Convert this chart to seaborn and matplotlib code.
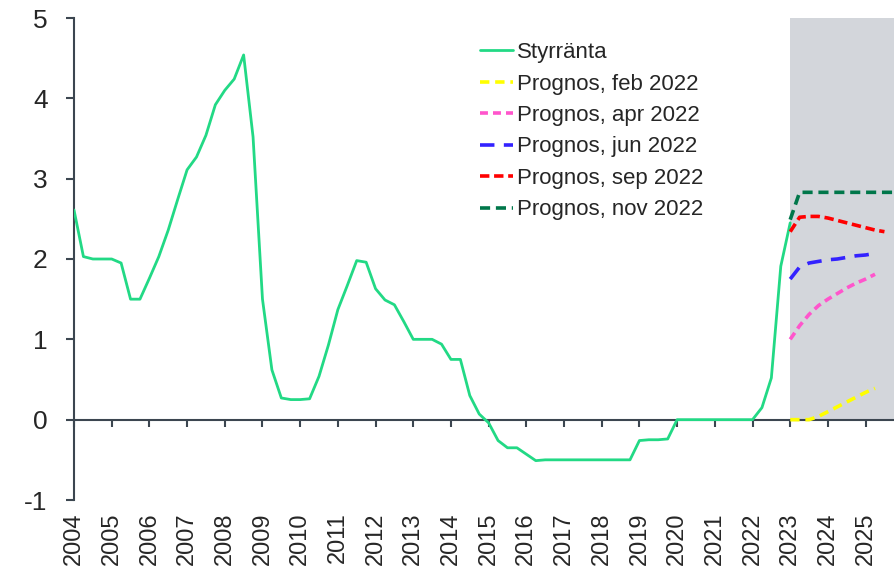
import numpy as np
import pandas as pd
import seaborn as sns
import matplotlib.pyplot as plt
from matplotlib.lines import Line2D

# styrränta, quarterly averages Q1 2004 - Q1 2023
styr_start = 2004
styrranta = [2.61, 2.03, 2.0, 2.0,
             2.0, 1.95, 1.5, 1.5,
             1.76, 2.03, 2.36, 2.74,
             3.11, 3.27, 3.54, 3.92,
             4.10, 4.24, 4.54, 3.52,
             1.50, 0.62, 0.27, 0.25,
             0.25, 0.26, 0.54, 0.93,
             1.37, 1.67, 1.98, 1.96,
             1.63, 1.49, 1.43, 1.22,
             1.0, 1.0, 1.0, 0.94,
             0.75, 0.75, 0.30, 0.07,
             -0.04, -0.26, -0.35, -0.35,
             -0.43, -0.51, -0.50, -0.50,
             -0.50, -0.50, -0.50, -0.50,
             -0.50, -0.50, -0.50, -0.50,
             -0.26, -0.25, -0.25, -0.24,
             0.0, 0.0, 0.0, 0.0,
             0.0, 0.0, 0.0, 0.0,
             0.0, 0.15, 0.52, 1.91,
             2.45]

# forecasts, quarterly from Q1 2023
prog_start = 2023
prog_feb = [0.0, 0.0, 0.0, 0.04, 0.10, 0.16, 0.22, 0.28, 0.34, 0.39]
prog_apr = [1.0, 1.17, 1.31, 1.42, 1.50, 1.57, 1.64, 1.70, 1.75, 1.81]
prog_jun = [1.75, 1.90, 1.95, 1.97, 1.99, 2.00, 2.02, 2.04, 2.05, 2.07]
prog_sep = [2.34, 2.52, 2.53, 2.53, 2.51, 2.48, 2.45, 2.42, 2.39, 2.36, 2.34]
prog_nov = [2.49, 2.83, 2.83, 2.83, 2.83, 2.83, 2.83, 2.83, 2.83, 2.83, 2.83, 2.83]

years = list(range(2004, 2026))
x_end = 2025.78


def quarters(start, vals):
    return pd.DataFrame({'t': start + 0.25 * np.arange(len(vals)), 'v': vals})


sns.set_style('white')
plt.rcParams['font.family'] = ['Liberation Sans', 'DejaVu Sans']
plt.rcParams['axes.unicode_minus'] = False

fig = plt.figure(figsize=(8.95, 5.76), dpi=100)
ax = fig.add_axes([74 / 895, 76 / 576, 821 / 895, 482 / 576])

# shaded forecast area
ax.fill_between([prog_start, x_end], 0, 5, color='#d3d6db', lw=0, zorder=0)

series = [
    ('Styrränta', styr_start, styrranta, '#22d985', None, 2.0),
    ('Prognos, feb 2022', prog_start, prog_feb, '#ffff00', (2.6, 1.6), 2.6),
    ('Prognos, apr 2022', prog_start, prog_apr, '#ff55cc', (2.2, 1.4), 2.6),
    ('Prognos, jun 2022', prog_start, prog_jun, '#3322ff', (4.0, 2.6), 2.6),
    ('Prognos, sep 2022', prog_start, prog_sep, '#ff0000', (2.6, 1.3), 2.6),
    ('Prognos, nov 2022', prog_start, prog_nov, '#00774a', (2.8, 1.6), 2.6),
]

handles = []
for name, start, vals, col, dash, lw in series:
    df = quarters(start, vals)
    sns.lineplot(data=df, x='t', y='v', color=col, lw=lw, ax=ax, zorder=3)
    ln = ax.lines[-1]
    if dash is not None:
        ln.set_dashes(dash)
    h = Line2D([], [], color=col, lw=lw)
    if dash is not None:
        h.set_dashes(dash)
    handles.append(h)

ax.legend(handles, [s[0] for s in series], loc='upper left',
          bbox_to_anchor=(0.494, 0.95), frameon=False, fontsize=16,
          handlelength=1.5, handletextpad=0.2, labelspacing=0.47,
          borderpad=0, borderaxespad=0)

ax.set_xlim(2004, x_end)
ax.set_ylim(-1, 5)
ax.set_yticks(range(-1, 6))
ax.set_xticks(years)
ax.set_xticklabels([str(y) for y in years])
ax.set_xlabel('')
ax.set_ylabel('')

for s in ['top', 'right']:
    ax.spines[s].set_visible(False)
ax.spines['bottom'].set_position(('data', 0))
for s in ['left', 'bottom']:
    ax.spines[s].set_color('#3c4650')
    ax.spines[s].set_linewidth(1.5)
ax.tick_params(axis='y', direction='out', length=6, width=1.5, color='#3c4650',
               labelsize=19, pad=13, left=True)
ax.tick_params(axis='x', direction='out', length=5, width=1.5, color='#3c4650',
               labelsize=17, pad=62, bottom=True, labelrotation=90)

fig.savefig('out.png', dpi=100)
